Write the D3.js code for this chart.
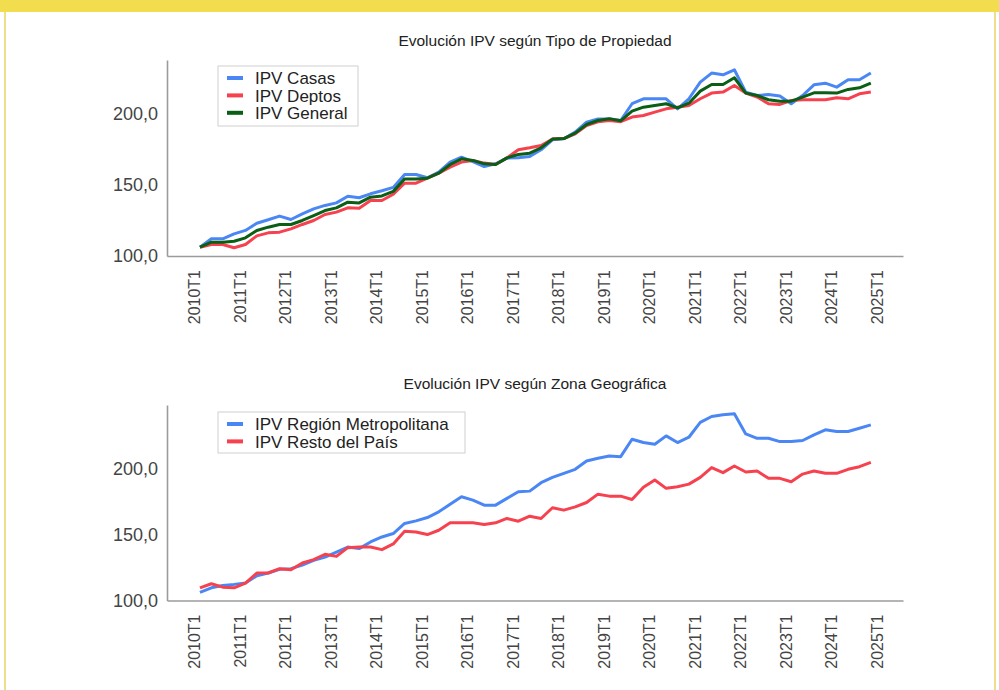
<!DOCTYPE html>
<html>
<head>
<meta charset="utf-8">
<script src="https://cdn.jsdelivr.net/npm/d3@7"></script>
<style>
body { margin: 0; background: #fff; font-family: "Liberation Sans", Arial, sans-serif; }
</style>
</head>
<body>
<script>
console.log("Cargando IPV")

// Etiquetas del eje X (una cada 4 trimestres)
const etiquetasX = ["2010T1", "2011T1", "2012T1", "2013T1", "2014T1", "2015T1", "2016T1", "2017T1",
    "2018T1", "2019T1", "2020T1", "2021T1", "2022T1", "2023T1", "2024T1", "2025T1"];

// Valores del eje Y
const ticksY = [100, 150, 200];

// Series trimestrales desde 2010T1
const ipvCasas = [106.2, 112.1, 112.1, 115.6, 118.0, 123.1, 125.5, 128.1, 125.7, 129.7,
    133.2, 135.6, 137.4, 142.1, 141.0, 143.8, 145.9, 148.3, 157.4, 157.4,
    155.1, 159.0, 166.1, 169.6, 166.5, 163.0, 164.9, 168.9, 169.1, 170.0,
    174.8, 181.8, 182.5, 187.2, 194.2, 196.5, 196.5, 195.4, 207.2, 210.7,
    210.7, 210.7, 203.6, 210.7, 222.4, 228.8, 227.6, 231.1, 215.4, 213.0,
    213.7, 212.6, 207.2, 213.0, 220.5, 221.7, 218.9, 224.1, 224.1, 228.8];

const ipvDeptos = [106.2, 108.1, 108.1, 105.8, 108.1, 114.2, 116.3, 116.8, 119.1, 122.2,
    125.0, 129.2, 130.9, 133.9, 133.7, 139.1, 139.1, 143.5, 151.3, 151.3,
    154.8, 158.3, 162.6, 166.1, 167.3, 165.4, 164.4, 169.1, 174.8, 176.2,
    177.8, 182.3, 182.7, 186.0, 191.9, 194.5, 195.4, 194.6, 197.8, 198.9,
    201.3, 203.6, 204.8, 206.0, 210.7, 214.7, 215.4, 220.1, 214.7, 211.9,
    207.2, 206.7, 209.5, 210.0, 210.0, 210.0, 211.4, 210.7, 214.2, 215.4];

const ipvGeneral = [106.2, 109.7, 109.7, 110.4, 112.8, 118.0, 120.3, 122.2, 122.2, 125.0,
    128.5, 132.0, 133.9, 137.9, 137.4, 141.4, 142.3, 145.5, 154.3, 154.3,
    154.8, 158.3, 164.4, 168.4, 167.3, 164.9, 164.4, 169.1, 171.5, 172.4,
    176.2, 182.3, 182.7, 186.5, 192.6, 195.4, 196.6, 195.2, 202.0, 204.8,
    206.0, 207.2, 204.3, 207.6, 216.1, 220.8, 220.8, 225.5, 214.7, 213.0,
    210.0, 209.0, 209.0, 211.9, 214.9, 214.9, 214.7, 217.3, 218.4, 221.7];

const ipvMetropolitana = [106.1, 109.6, 111.4, 112.2, 113.2, 118.7, 120.8, 123.6, 124.1, 126.8,
    130.4, 132.9, 136.7, 140.5, 139.3, 144.3, 148.1, 150.7, 158.3, 160.3,
    162.8, 167.1, 172.9, 178.5, 176.0, 172.2, 172.2, 177.3, 182.3, 182.8,
    189.2, 193.2, 196.3, 199.3, 205.6, 207.7, 209.4, 208.9, 222.1, 219.6,
    218.3, 224.6, 219.6, 223.6, 234.8, 239.3, 240.6, 241.3, 226.1, 222.8,
    222.8, 220.3, 220.3, 221.1, 225.4, 229.2, 227.9, 227.9, 230.4, 233.0];

const ipvResto = [109.6, 112.7, 110.1, 109.6, 113.2, 120.8, 120.8, 124.1, 123.3, 128.4,
    130.9, 135.0, 133.4, 140.0, 140.5, 140.5, 138.5, 142.8, 152.4, 151.9,
    149.9, 153.2, 158.8, 158.8, 158.8, 157.5, 158.8, 162.1, 160.0, 163.8,
    162.1, 170.2, 168.4, 170.9, 174.2, 180.5, 179.0, 179.0, 176.5, 185.7,
    191.2, 184.9, 186.1, 188.1, 193.2, 200.6, 196.8, 201.8, 197.3, 198.0,
    192.5, 192.5, 189.9, 195.7, 198.0, 196.3, 196.3, 199.3, 201.3, 204.6];

const azul = "#4a87f5";
const rojo = "#f6424f";
const verde = "#0a5e16";

const width = 999;
const height = 690;

const svg = d3.select("body")
    .append("svg")
    .attr("width", width)
    .attr("height", height);

// Marco amarillo
svg.append("rect").attr("x", 0).attr("y", 0).attr("width", width).attr("height", 12).attr("fill", "#f2dd4e");
svg.append("line").attr("x1", 5).attr("x2", 5).attr("y1", 12).attr("y2", height)
    .attr("stroke", "#eee08a").attr("stroke-width", 2);
svg.append("line").attr("x1", 995).attr("x2", 995).attr("y1", 12).attr("y2", height)
    .attr("stroke", "#eee08a").attr("stroke-width", 2);

// Escala X compartida (indice de trimestre)
const xScale = d3.scaleLinear()
    .domain([-2.9, 61.83])
    .range([167, 903]);

function dibujarGrafico(cfg) {
    const yScale = d3.scaleLinear()
        .domain(cfg.dominio)
        .range([cfg.abajo, cfg.arriba]);

    const g = svg.append("g");

    // titulo
    g.append("text")
        .attr("x", 535)
        .attr("y", cfg.yTitulo)
        .attr("text-anchor", "middle")
        .style("font-size", "15.5px")
        .attr("fill", "#222")
        .text(cfg.titulo);

    // eje X
    const ejeX = d3.axisBottom(xScale)
        .tickValues(d3.range(0, etiquetasX.length * 4, 4))
        .tickFormat((d, i) => etiquetasX[i])
        .tickSize(0)
        .tickSizeOuter(0);

    const gx = g.append("g")
        .attr("transform", "translate(0," + cfg.abajo + ")")
        .call(ejeX);
    gx.select(".domain").attr("stroke", "#9b9b9b").attr("stroke-width", 1.6);
    gx.selectAll("text")
        .attr("transform", "rotate(-90)")
        .attr("x", -14)
        .attr("y", 0)
        .attr("dy", "0")
        .style("text-anchor", "end")
        .style("font-size", "16px")
        .style("font-family", "'Liberation Sans', Arial, sans-serif")
        .attr("fill", "#444");

    // eje Y
    const ejeY = d3.axisLeft(yScale)
        .tickValues(ticksY)
        .tickFormat(d => d3.format(".1f")(d).replace(".", ","))
        .tickSize(0)
        .tickSizeOuter(0)
        .tickPadding(9);

    const gy = g.append("g")
        .attr("transform", "translate(167,0)")
        .call(ejeY);
    gy.select(".domain").attr("stroke", "#9b9b9b").attr("stroke-width", 1.6);
    gy.selectAll("text")
        .style("font-size", "18px")
        .style("font-family", "'Liberation Sans', Arial, sans-serif")
        .attr("fill", "#444");

    // lineas
    const linea = d3.line()
        .x((d, i) => xScale(i))
        .y(d => yScale(d));

    cfg.series.forEach(s => {
        g.append("path")
            .datum(s.valores)
            .attr("d", linea)
            .attr("fill", "none")
            .attr("stroke", s.color)
            .attr("stroke-width", 3)
            .attr("stroke-linejoin", "round");
    });

    // leyenda
    g.append("rect")
        .attr("x", 218)
        .attr("y", cfg.leyenda.y)
        .attr("width", cfg.leyenda.ancho)
        .attr("height", cfg.leyenda.alto)
        .attr("fill", "#fff")
        .attr("stroke", "#cfcfcf");

    cfg.series.forEach((s, i) => {
        const yy = cfg.leyenda.y + 12 + i * 17.4;
        g.append("line")
            .attr("x1", 227).attr("x2", 243)
            .attr("y1", yy).attr("y2", yy)
            .attr("stroke", s.color)
            .attr("stroke-width", 4);
        g.append("text")
            .attr("x", 255)
            .attr("y", yy)
            .attr("dy", "0.36em")
            .style("font-size", "17px")
            .attr("fill", "#222")
            .text(s.nombre);
    });
}

dibujarGrafico({
    titulo: "Evolución IPV según Tipo de Propiedad",
    yTitulo: 45.5,
    dominio: [100, 238],
    abajo: 256,
    arriba: 60,
    leyenda: { y: 66, ancho: 140, alto: 60 },
    series: [
        { nombre: "IPV Casas", valores: ipvCasas, color: azul },
        { nombre: "IPV Deptos", valores: ipvDeptos, color: rojo },
        { nombre: "IPV General", valores: ipvGeneral, color: verde }
    ]
});

dibujarGrafico({
    titulo: "Evolución IPV según Zona Geográfica",
    yTitulo: 388.5,
    dominio: [100, 248],
    abajo: 600.5,
    arriba: 405,
    leyenda: { y: 412, ancho: 247, alto: 41 },
    series: [
        { nombre: "IPV Región Metropolitana", valores: ipvMetropolitana, color: azul },
        { nombre: "IPV Resto del País", valores: ipvResto, color: rojo }
    ]
});
</script>
</body>
</html>
